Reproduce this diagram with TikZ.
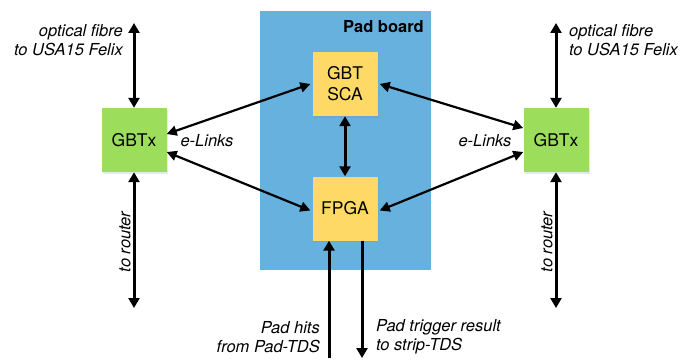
\documentclass[tikz,border=0pt]{standalone}
\usepackage{fontspec}
\setmainfont{TeX Gyre Heros}
\usetikzlibrary{arrows.meta,shadows}

\definecolor{boardblue}{RGB}{103,177,222}
\definecolor{chipyellow}{RGB}{255,217,102}
\definecolor{gbtgreen}{RGB}{156,222,92}

\tikzset{
  chip/.style={minimum width=65pt,minimum height=64pt,inner sep=0pt,align=center,
    font=\fontsize{17.5}{21}\selectfont,
    drop shadow={opacity=0.18,shadow xshift=1pt,shadow yshift=-1.5pt}},
  gbtbox/.style={chip,fill=gbtgreen},
  padchip/.style={chip,fill=chipyellow},
  fibre/.style={{Triangle[length=10pt,width=11pt]}-{Triangle[length=10pt,width=11pt]},line width=3pt},
  elink/.style={{Triangle[length=10pt,width=10pt]}-{Triangle[length=10pt,width=10pt]},line width=2.2pt},
  lbl/.style={font=\fontsize{16.5}{19}\selectfont\itshape,inner sep=0pt}
}

\begin{document}
\begin{tikzpicture}[x=1pt,y=-1pt]
\useasboundingbox (0,0) rectangle (683,361);
\fill[boardblue] (260,11) rectangle (431,270);
\node[anchor=east,inner sep=0pt,font=\fontsize{16.5}{19}\selectfont\bfseries] (board) at (424,27) {Pad board};

\node[padchip] (sca) at (345,84) {GBT\\SCA};
\node[padchip] (fpga) at (345,208.5) {FPGA};
\node[gbtbox] (gbtxL) at (134,140) {GBTx};
\node[gbtbox] (gbtxR) at (556,140) {GBTx};

\coordinate (fibreL) at (134,23);
\coordinate (routerL) at (134,308);
\coordinate (fibreR) at (556,23);
\coordinate (routerR) at (556,308);
\coordinate (hits) at (329,358);
\coordinate (trig) at (362,358);

\draw[fibre] (fibreL) -- (gbtxL.north);
\draw[fibre] (gbtxL.south) -- (routerL);
\draw[fibre] (fibreR) -- (gbtxR.north);
\draw[fibre] (gbtxR.south) -- (routerR);
\draw[fibre] (sca.south) -- (fpga.north);
\draw[-{Triangle[length=10pt,width=11pt]},line width=3pt] (hits) -- (hits |- fpga.south);
\draw[-{Triangle[length=10pt,width=11pt]},line width=3pt] (trig |- fpga.south) -- (trig);

\draw[elink] ([yshift=6pt]gbtxL.east) -- ([xshift=-2pt]sca.west);
\draw[elink] ([yshift=-12pt]gbtxL.east) -- ([xshift=-2pt,yshift=-2pt]fpga.west);
\draw[elink] ([xshift=2pt]sca.east) -- ([yshift=12pt]gbtxR.west);
\draw[elink] ([xshift=2pt,yshift=-2pt]fpga.east) -- ([yshift=-12pt]gbtxR.west);

\node[lbl,anchor=east,align=right] (fibretxtL) at (123,40) {optical fibre\\to USA15 Felix};
\node[lbl,anchor=west,align=left] (fibretxtR) at (569,40) {optical fibre\\to USA15 Felix};
\node[lbl] (linksL) at (207,141) {e-Links};
\node[lbl] (linksR) at (485,141) {e-Links};
\node[lbl,rotate=90] (routertxtL) at (125,242) {to router};
\node[lbl,rotate=90] (routertxtR) at (547,242) {to router};
\node[lbl,anchor=east,align=right] (hitstxt) at (320,337) {Pad hits\\from Pad-TDS};
\node[lbl,anchor=west,align=left] (trigtxt) at (376,337) {Pad trigger result\\to strip-TDS};
\end{tikzpicture}
\end{document}
